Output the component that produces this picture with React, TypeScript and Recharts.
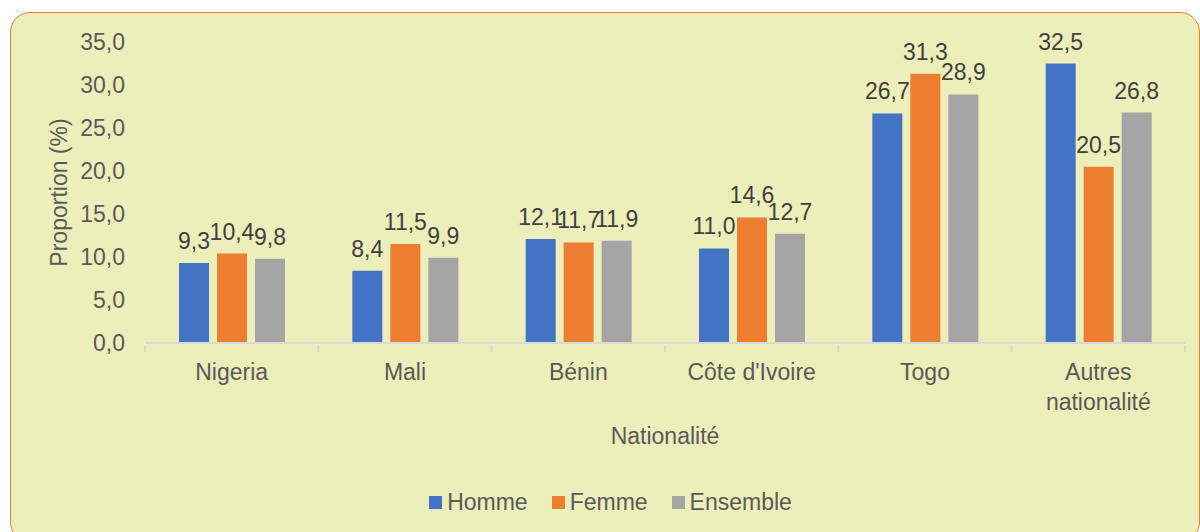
import { BarChart, Bar, XAxis, YAxis, LabelList, Legend } from 'recharts';

const countries = ['Nigeria', 'Mali', 'Bénin', "Côte d'Ivoire", 'Togo', 'Autres nationalité'];
const homme = [9.3, 8.4, 12.1, 11.0, 26.7, 32.5];
const femme = [10.4, 11.5, 11.7, 14.6, 31.3, 20.5];
const ensemble = [9.8, 9.9, 11.9, 12.7, 28.9, 26.8];
const yTicks = [0, 5, 10, 15, 20, 25, 30, 35];

const data = countries.map((name, i) => ({
  name,
  homme: homme[i],
  femme: femme[i],
  ensemble: ensemble[i],
}));

const series = [
  { key: 'homme', label: 'Homme', color: '#4472C4' },
  { key: 'femme', label: 'Femme', color: '#ED7D31' },
  { key: 'ensemble', label: 'Ensemble', color: '#A5A5A5' },
];

const FONT = '"Liberation Sans", Arial, sans-serif';
const fmt = (v: number) => v.toFixed(1).replace('.', ',');

const W = 1200;
const H = 532;
const xAxisHeight = 100;
const margin = { top: 42, right: 15, bottom: 62, left: 0 };
const yAxisWidth = 145;
const bandWidth = (W - margin.right - yAxisWidth) / countries.length;

const CategoryTick = (props: any) => {
  const { x, y, payload, index } = props;
  const words = String(payload.value) === 'Autres nationalité' ? ['Autres', 'nationalité'] : [payload.value];
  const axisY = y;
  return (
    <g>
      <line x1={x - bandWidth / 2} x2={x - bandWidth / 2} y1={axisY} y2={axisY + 7} stroke="#D9D9D9" strokeWidth={2} />
      {index === countries.length - 1 && (
        <line x1={x + bandWidth / 2} x2={x + bandWidth / 2} y1={axisY} y2={axisY + 7} stroke="#D9D9D9" strokeWidth={2} />
      )}
      <text x={x} y={axisY + 35} textAnchor="middle" fill="#595959" fontSize={23} fontFamily={FONT}>
        {words.map((w: string, i: number) => (
          <tspan key={i} x={x} dy={i === 0 ? 0 : 30}>{w}</tspan>
        ))}
      </text>
    </g>
  );
};

const LegendContent = () => (
  <div style={{ display: 'flex', justifyContent: 'center', fontFamily: FONT, fontSize: 23, color: '#595959', paddingLeft: 36 }}>
    {series.map((s) => (
      <div key={s.key} style={{ display: 'flex', alignItems: 'center', margin: '0 12px' }}>
        <span style={{ width: 13, height: 13, background: s.color, display: 'inline-block', marginRight: 5 }} />
        <span>{s.label}</span>
      </div>
    ))}
  </div>
);

export default function App() {
  return (
    <div style={{ position: 'absolute', top: 0, left: 0, width: W, height: H, overflow: 'hidden', background: '#fff' }}>
      <div
        style={{
          position: 'absolute',
          left: 10,
          top: 12,
          width: 1190,
          height: 530,
          boxSizing: 'border-box',
          border: '1.5px solid #ED7D31',
          borderRadius: 20,
          background: '#EDEFBB',
        }}
      />
      <div style={{ position: 'absolute', left: 0, top: 0 }}>
        <BarChart width={W} height={H} data={data} margin={margin} barSize={30} barGap={8}>
          <XAxis
            dataKey="name"
            interval={0}
            tickLine={false}
            tickSize={0}
            stroke="#D9D9D9"
            strokeWidth={2}
            tick={<CategoryTick />}
            height={xAxisHeight}
            label={{
              value: 'Nationalité',
              position: 'insideBottom',
              offset: 0,
              dy: 1,
              style: { fill: '#595959', fontSize: 23, fontFamily: FONT },
            }}
          />
          <YAxis
            domain={[0, 35]}
            ticks={yTicks}
            interval={0}
            width={yAxisWidth}
            axisLine={false}
            tickLine={false}
            tickMargin={14}
            tickFormatter={fmt}
            tick={{ fill: '#595959', fontSize: 23, fontFamily: FONT }}
            label={{
              value: 'Proportion (%)',
              angle: -90,
              position: 'insideLeft',
              offset: 59,
              style: { textAnchor: 'middle', fill: '#595959', fontSize: 23, fontFamily: FONT },
            }}
          />
          <Legend content={<LegendContent />} verticalAlign="bottom" wrapperStyle={{ bottom: 16 }} />
          {series.map((s) => (
            <Bar key={s.key} dataKey={s.key} name={s.label} fill={s.color} isAnimationActive={false}>
              <LabelList
                dataKey={s.key}
                position="top"
                offset={14}
                formatter={(v: any) => fmt(Number(v))}
                style={{ fill: '#404040', fontSize: 23, fontFamily: FONT }}
              />
            </Bar>
          ))}
        </BarChart>
      </div>
    </div>
  );
}
